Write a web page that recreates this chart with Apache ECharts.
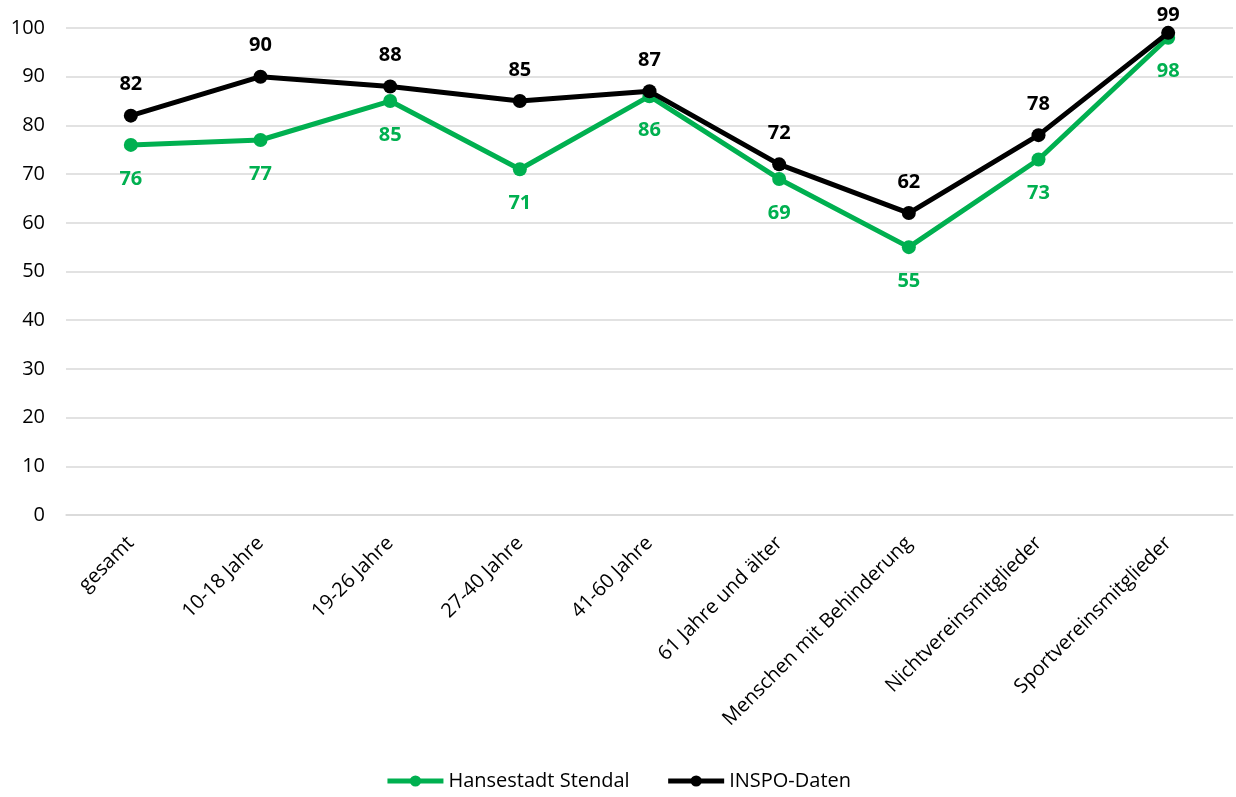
<!DOCTYPE html>
<html>
<head>
<meta charset="utf-8">
<script src="https://cdn.jsdelivr.net/npm/echarts@6/dist/echarts.min.js"></script>
<style>
  html, body { margin: 0; padding: 0; background: #fff; }
  #chart { width: 1236px; height: 797px; }
</style>
</head>
<body>
<div id="chart"></div>
<script>
const categories = ['gesamt', '10-18 Jahre', '19-26 Jahre', '27-40 Jahre', '41-60 Jahre',
  '61 Jahre und älter', 'Menschen mit Behinderung', 'Nichtvereinsmitglieder', 'Sportvereinsmitglieder'];
const stendal = [76, 77, 85, 71, 86, 69, 55, 73, 98];
const inspo = [82, 90, 88, 85, 87, 72, 62, 78, 99];
const yTicks = { min: 0, max: 100, interval: 10 };

const FONT = '"Open Sans", "Noto Sans", sans-serif';
const GREEN = '#00B050';

// The topmost INSPO label sits tighter to its point so it stays inside the canvas
const inspoData = inspo.map((v, i) =>
  i === inspo.length - 1 ? { value: v, label: { distance: 1 } } : v);

const chart = echarts.init(document.getElementById('chart'), null, { renderer: 'canvas' });
chart.setOption({
  animation: false,
  textStyle: { fontFamily: FONT },
  grid: { left: 66, right: 3, top: 28, bottom: 282, containLabel: false },
  legend: {
    bottom: 1,
    left: 'center',
    itemWidth: 56,
    itemHeight: 14,
    itemGap: 36,
    lineStyle: { width: 5 },
    textStyle: { fontFamily: FONT, fontSize: 20, color: '#000' },
    data: ['Hansestadt Stendal', 'INSPO-Daten']
  },
  xAxis: {
    type: 'category',
    data: categories,
    boundaryGap: true,
    axisLine: { show: true, lineStyle: { color: '#d9d9d9', width: 1.5 } },
    axisTick: { show: false },
    axisLabel: {
      rotate: 45,
      margin: 25,
      interval: 0,
      fontFamily: FONT,
      fontSize: 20,
      color: '#000'
    }
  },
  yAxis: {
    type: 'value',
    min: yTicks.min,
    max: yTicks.max,
    interval: yTicks.interval,
    axisLine: { show: false },
    axisTick: { show: false },
    splitLine: { lineStyle: { color: '#d9d9d9', width: 1.5 } },
    axisLabel: { margin: 21, fontFamily: FONT, fontSize: 20, color: '#000' }
  },
  series: [
    {
      name: 'Hansestadt Stendal',
      type: 'line',
      data: stendal,
      symbol: 'circle',
      symbolSize: 14,
      lineStyle: { color: GREEN, width: 5 },
      itemStyle: { color: GREEN },
      label: {
        show: true,
        position: 'bottom',
        distance: 17,
        fontFamily: FONT,
        fontSize: 20,
        fontWeight: 'bold',
        color: GREEN
      },
      z: 2
    },
    {
      name: 'INSPO-Daten',
      type: 'line',
      data: inspoData,
      symbol: 'circle',
      symbolSize: 14,
      lineStyle: { color: '#000', width: 5 },
      itemStyle: { color: '#000' },
      label: {
        show: true,
        position: 'top',
        distance: 14,
        fontFamily: FONT,
        fontSize: 20,
        fontWeight: 'bold',
        color: '#000'
      },
      z: 3
    }
  ]
});
</script>
</body>
</html>
